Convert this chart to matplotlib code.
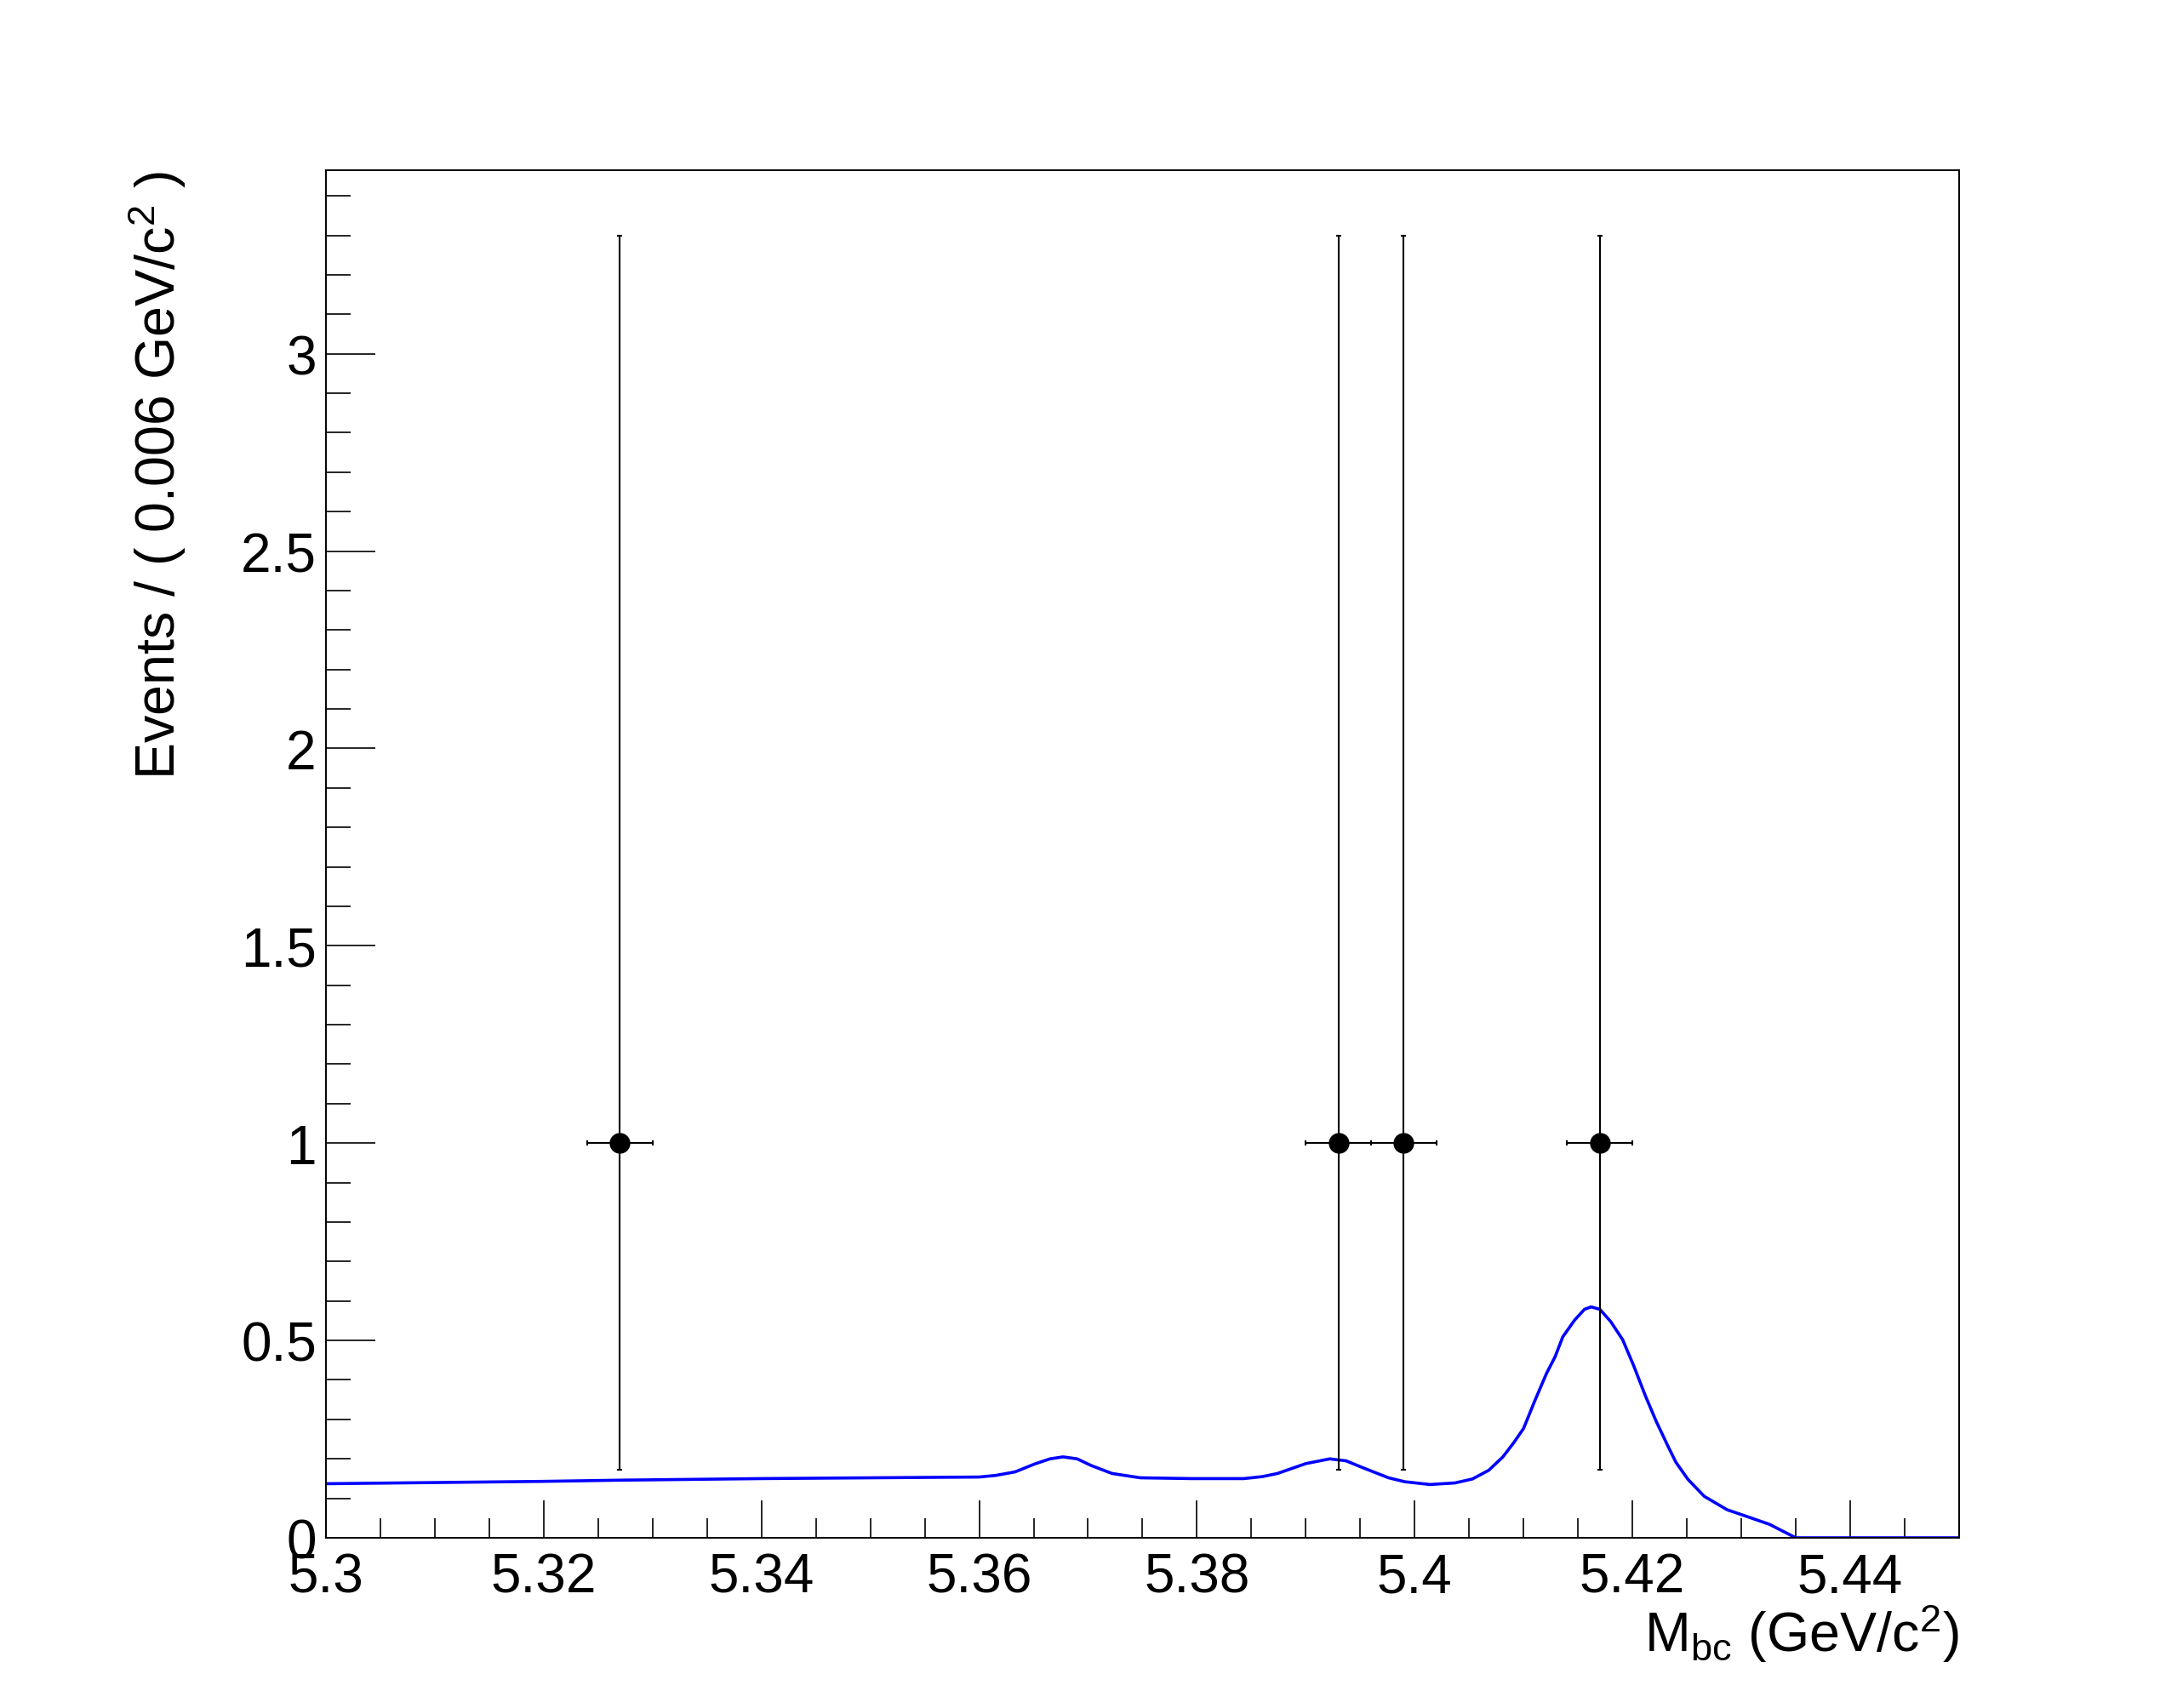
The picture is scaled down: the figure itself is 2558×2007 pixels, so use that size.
import matplotlib
matplotlib.use("Agg")
import matplotlib.pyplot as plt
from matplotlib.ticker import MultipleLocator, FuncFormatter

plt.rcParams['font.family'] = ['Liberation Sans', 'DejaVu Sans']
plt.rcParams['mathtext.fontset'] = 'custom'
plt.rcParams['mathtext.rm'] = 'Liberation Sans'
plt.rcParams['mathtext.it'] = 'Liberation Sans'

# data points (bin centres, bin width 0.006)
data_x = [5.327, 5.393, 5.399, 5.417]
data_y = [1, 1, 1, 1]
err_lo = [0.827, 0.827, 0.827, 0.827]
err_hi = [2.30, 2.30, 2.30, 2.30]
half_bin = 0.003

# fitted pdf
fit_x = [5.300, 5.310, 5.320, 5.327, 5.340, 5.350, 5.355, 5.360, 5.3615,
         5.3633, 5.3651, 5.3665, 5.3677, 5.369, 5.3703, 5.3722, 5.3748,
         5.3795, 5.3843, 5.386, 5.3874, 5.3900, 5.3922, 5.3937, 5.3952,
         5.3976, 5.3991, 5.4014, 5.4037, 5.4053, 5.4068, 5.4081, 5.4091,
         5.4100, 5.4110, 5.4121, 5.4129, 5.4136, 5.4147, 5.4156, 5.4162,
         5.4170, 5.4180, 5.4191, 5.4201, 5.4212, 5.4222, 5.4233, 5.4240,
         5.4251, 5.4266, 5.4287, 5.4303, 5.4326, 5.4350, 5.4500]
fit_y = [0.137, 0.140, 0.143, 0.146, 0.150, 0.152, 0.153, 0.154, 0.158,
         0.167, 0.187, 0.200, 0.205, 0.200, 0.183, 0.163, 0.152,
         0.150, 0.150, 0.155, 0.163, 0.188, 0.200, 0.195, 0.178,
         0.152, 0.142, 0.135, 0.139, 0.149, 0.171, 0.205, 0.241,
         0.277, 0.345, 0.416, 0.459, 0.509, 0.552, 0.579, 0.585,
         0.579, 0.548, 0.502, 0.437, 0.359, 0.294, 0.230, 0.191,
         0.148, 0.105, 0.071, 0.056, 0.034, 0.0, 0.0]

fig = plt.figure(figsize=(25.58, 20.08), dpi=100)
ax = fig.add_axes([0.1497, 0.0996, 0.7502, 0.8003])

ax.plot(fit_x, fit_y, color='#0000ff', lw=2.6, zorder=2)
ax.errorbar(data_x, data_y, xerr=half_bin, yerr=[err_lo, err_hi],
            fmt='o', color='black', ms=16.5, elinewidth=1.5, capsize=2,
            capthick=1.5, zorder=3)

ax.set_xlim(5.3, 5.45)
ax.set_ylim(0, 3.465)

ax.xaxis.set_major_locator(MultipleLocator(0.02))
ax.xaxis.set_minor_locator(MultipleLocator(0.005))
ax.yaxis.set_major_locator(MultipleLocator(0.5))
ax.yaxis.set_minor_locator(MultipleLocator(0.1))
fmt = FuncFormatter(lambda v, p: '%g' % round(v, 4))
ax.xaxis.set_major_formatter(fmt)
ax.yaxis.set_major_formatter(fmt)

ax.tick_params(axis='both', which='both', direction='in', width=1.2,
               labelsize=46, top=False, right=False)
ax.tick_params(axis='x', which='major', length=32, pad=12)
ax.tick_params(axis='x', which='minor', length=16.5)
ax.tick_params(axis='y', which='major', length=42, pad=8)
ax.tick_params(axis='y', which='minor', length=21)
for s in ax.spines.values():
    s.set_linewidth(1.4)

fig.text(0.072, 0.9, r'Events / ( 0.006 GeV/c$^{2}$ )', rotation=90,
         ha='center', va='top', fontsize=46.5)
fig.text(0.9, 0.0333, r'M$_{\rm bc}$ (GeV/c$^{2}$)', ha='right',
         va='baseline', fontsize=46.5)

fig.savefig('out.png', dpi=100)
